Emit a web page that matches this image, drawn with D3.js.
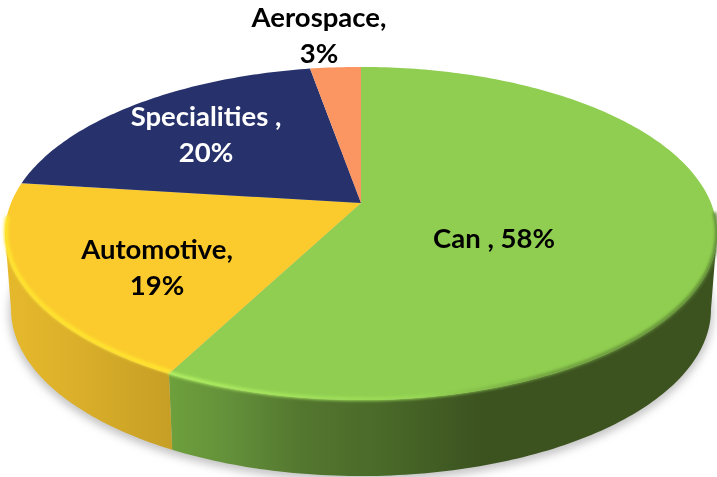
<!DOCTYPE html>
<html lang="en">
  <head>
    <meta charset="UTF-8" />
    <title>Market share</title>
    <style>
      html, body { margin: 0; padding: 0; background: #fff; }
      svg { display: block; }
      text { font-family: Lato, "Open Sans", sans-serif; font-weight: 700; font-size: 27.5px; }
    </style>
  </head>
  <body>
    <svg id="svg" width="717" height="477"></svg>
    <script src="https://d3js.org/d3.v7.min.js"></script>
    <script>
      const categories = ["Can", "Automotive", "Specialities", "Aerospace"];
      const shares = [57.6, 19.4, 20.25, 2.75];
      const topColors = ["#8fce50", "#fbcb2e", "#27316b", "#fb9662"];
      const labelLines = [["Can , 58%"], ["Automotive,", "19%"], ["Specialities ,", "20%"], ["Aerospace,", "3%"]];
      const labelColors = ["#000", "#000", "#fff", "#000"];
      const labelPos = [[494, 248], [157, 259], [206, 126], [319, 27]];

      const svg = d3.select("#svg");
      const defs = svg.append("defs");

      // pie seen in perspective: apex, disc scale, depth factor
      const apex = { x: 361, y: 203 };
      const kx = 350, ky = 161, p = 0.183;
      const thickness = 76;
      const bottomScale = 0.983;

      function rim(a, bottom) {
        const u = Math.sin(a), v = Math.cos(a), d = 1 + p * v;
        const s = bottom ? bottomScale : 1;
        return [apex.x + (s * kx * u) / d, apex.y - (ky * v) / d + (bottom ? thickness : 0)];
      }
      function sweep(a0, a1, bottom) {
        const n = Math.ceil(Math.abs(a1 - a0) * 60);
        return d3.range(n + 1).map((i) => rim(a0 + ((a1 - a0) * i) / n, bottom));
      }

      const slices = d3.pie().sort(null)(shares);
      const line = d3.line();

      function gradient(id, stops) {
        const g = defs.append("linearGradient").attr("id", id)
          .attr("gradientUnits", "userSpaceOnUse")
          .attr("x1", 0).attr("x2", 717).attr("y1", 0).attr("y2", 0);
        stops.forEach((s) => g.append("stop").attr("offset", s[0] / 717).attr("stop-color", s[1]));
      }
      gradient("sideCan", [[168, "#6ea03c"], [230, "#63903a"], [300, "#54772f"], [380, "#4a6a29"], [480, "#3c5320"], [717, "#3c5320"]]);
      gradient("sideAuto", [[5, "#e6b92c"], [70, "#dcb02a"], [168, "#c79f25"]]);
      gradient("bevelCan", [[168, "#b4f264"], [300, "#a4e45c"], [420, "#98d955"], [540, "#6f9f3e"], [717, "#5c8534"]]);

      const blur = (id, sd) => defs.append("filter").attr("id", id)
        .attr("x", "-10%").attr("y", "-10%").attr("width", "120%").attr("height", "120%")
        .append("feGaussianBlur").attr("stdDeviation", sd);
      blur("shadowBlur", 4);
      blur("bevelBlur", 1.6);
      blur("textBlur", 0.35);

      // drop shadow under the bottom rim
      svg.append("path")
        .attr("d", line(sweep(0, 2 * Math.PI, true)) + "Z")
        .attr("transform", "translate(0, 3)")
        .attr("fill", "#c4c4c4")
        .attr("stroke", "#c4c4c4")
        .attr("stroke-width", 4)
        .attr("filter", "url(#shadowBlur)");

      // side walls only show between the two points where the rim turns back
      const turnRight = Math.acos(-p);
      const turnLeft = 2 * Math.PI - turnRight;
      const wall = (a0, a1) => line(sweep(a0, a1, false).concat(sweep(a1, a0, true))) + "Z";
      svg.append("path").attr("d", wall(turnRight, slices[0].endAngle)).attr("fill", "url(#sideCan)");
      svg.append("path").attr("d", wall(slices[1].startAngle, turnLeft)).attr("fill", "url(#sideAuto)");

      // top faces
      const wedge = (d) => line([[apex.x, apex.y]].concat(sweep(d.startAngle, d.endAngle, false))) + "Z";
      svg.append("g").selectAll("path").data(slices).join("path")
        .attr("d", wedge)
        .attr("fill", (d, i) => topColors[i]);

      // soft bevel along the front rim
      const bevel = svg.append("g").attr("filter", "url(#bevelBlur)");
      bevel.append("path")
        .attr("d", line(sweep(Math.PI * 0.52, slices[0].endAngle, false)))
        .attr("transform", "translate(0, -1)")
        .attr("fill", "none")
        .attr("stroke", "url(#bevelCan)")
        .attr("stroke-width", 3.5);
      bevel.append("path")
        .attr("d", line(sweep(slices[1].startAngle, Math.PI * 1.47, false)))
        .attr("transform", "translate(1, -2)")
        .attr("fill", "none")
        .attr("stroke", "#ffe52e")
        .attr("stroke-width", 4);

      // labels
      const labels = svg.append("g").attr("text-anchor", "middle").attr("filter", "url(#textBlur)");
      labelLines.forEach((lines, i) => {
        lines.forEach((t, j) => {
          labels.append("text")
            .attr("x", labelPos[i][0])
            .attr("y", labelPos[i][1] + j * 35.5)
            .attr("fill", labelColors[i])
            .text(t);
        });
      });
    </script>
  </body>
</html>
